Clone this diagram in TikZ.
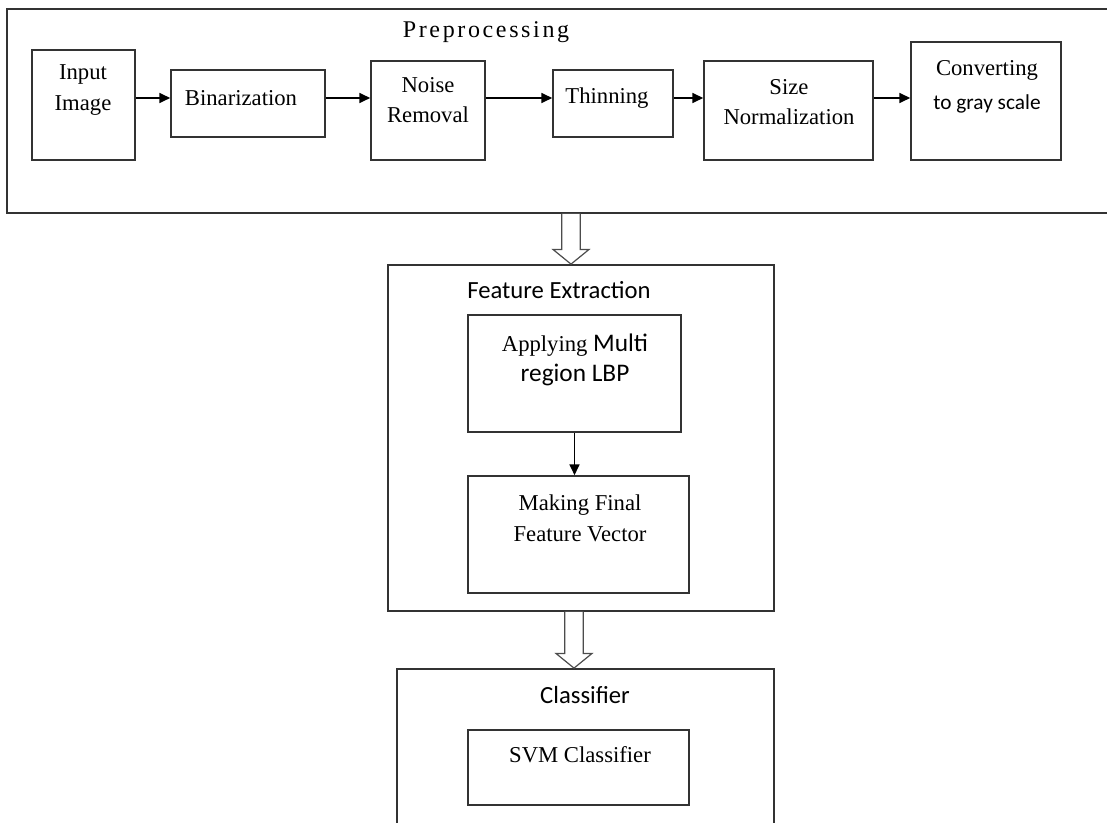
\documentclass[tikz,border=0pt]{standalone}
\usepackage{fontspec}
\setmainfont{Liberation Serif}
\newfontfamily\calfont{Carlito}
\newfontfamily\widefont[LetterSpace=11]{Liberation Serif}
\usetikzlibrary{arrows.meta,fit,calc}

\tikzset{
  blk/.style = {draw=black!80, line width=1.3pt, inner sep=0pt},
  arr/.style = {-{Triangle[length=8pt,width=7.5pt]}, line width=1.1pt},
  hollow/.style = {draw=black!70, fill=white, line width=0.9pt, line join=miter},
  lbl/.style = {align=center, inner sep=0pt, font=\fontsize{17}{23}\selectfont},
  slbl/.style = {lbl, font=\calfont\fontsize{18.5}{23}\selectfont},
}
\newcommand{\hollowarrow}[2]{%
  \draw[hollow] let \p1 = (#1), \p2 = (#2) in
    (\x2-7pt,\y1) -- (\x2-7pt,\y2+11pt) -- (\x2-13.5pt,\y2+11pt) -- (\x2,\y2)
    -- (\x2+13.5pt,\y2+11pt) -- (\x2+7pt,\y2+11pt) -- (\x2+7pt,\y1);}

\begin{document}
\begin{tikzpicture}[x = 0.75pt, y = -0.75pt]
  \useasboundingbox (0,0) rectangle (1107,823);
  \clip (0,0) rectangle (1107,823);
  % stages
  \node[blk, fit={(7,9) (1115,213)}] (prep) {};
  \node[blk, fit={(388,265) (774,611)}] (fx) {};
  \node[blk, fit={(397,669) (774,830)}] (cls) {};
  \node[lbl, font=\widefont\fontsize{18}{23}\selectfont] (t-prep) at (486,32) {Preprocessing};
  \node[slbl] (t-fx) at (559,290) {Feature Extraction};
  \node[slbl] (t-cls) at (585,695) {Classifier};
  % preprocessing steps
  \node[blk, fit={(32,50) (135,160)}] (input) {};
  \node[blk, fit={(171,70) (325,137)}] (binar) {};
  \node[blk, fit={(371,61) (485,160)}] (noise) {};
  \node[blk, fit={(553,70) (673,137)}] (thin) {};
  \node[blk, fit={(704,61) (873,160)}] (size) {};
  \node[blk, fit={(911,42) (1061,160)}] (conv) {};
  \node[lbl] (t-input) at (83,90) {Input\\Image};
  \node[lbl] (t-binar) at (241,98) {Binarization};
  \node[lbl] (t-noise) at (428,100) {Noise\\Removal};
  \node[lbl] (t-thin) at (607,98) {Thinning};
  \node[lbl] (t-size) at (789,102) {Size\\Normalization};
  \node[lbl] (t-conv) at (987,87) {Converting\\[2pt]{\calfont\fontsize{16}{20}\selectfont to gray scale}};
  \coordinate (row) at (0,98);
  \foreach \a/\b in {input/binar, binar/noise, noise/thin, thin/size, size/conv}
    \draw[arr] (\a.east |- row) -- (\b.west |- row);
  % feature extraction and classifier
  \node[blk, fit={(468,315) (681,432)}] (lbp) {};
  \node[blk, fit={(468,476) (689,593)}] (fvec) {};
  \node[blk, fit={(468,730) (689,805)}] (svm) {};
  \node[lbl] (t-lbp) at (575,360) {Applying {\calfont\fontsize{19}{23}\selectfont Multi}\\{\calfont\fontsize{19}{23}\selectfont region LBP}};
  \node[lbl] (t-fvec) at (580,518) {Making Final\\Feature Vector};
  \node[lbl] (t-svm) at (580,755) {SVM Classifier};
  \draw[arr] (lbp.south) -- (lbp.south |- fvec.north);
  \coordinate (h1) at (571,0);
  \coordinate (h2) at (574,0);
  \hollowarrow{prep.south -| h1}{fx.north -| h1}
  \hollowarrow{fx.south -| h2}{cls.north -| h2}
\end{tikzpicture}
\end{document}
